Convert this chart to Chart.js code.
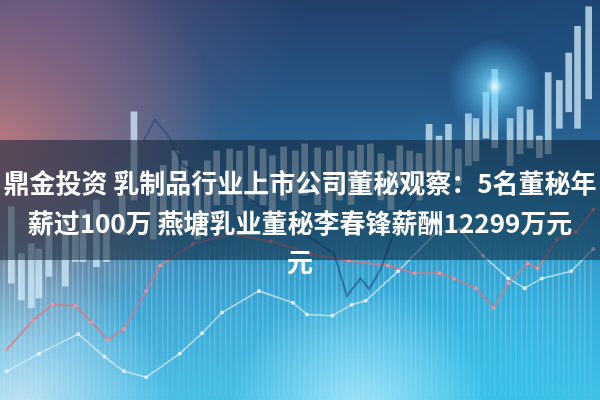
<!DOCTYPE html>
<html lang="zh-CN">
<head>
<meta charset="utf-8">
<title>鼎金投资 乳制品行业上市公司董秘观察</title>
<script src="https://cdn.jsdelivr.net/npm/chart.js@4.4.1/dist/chart.umd.min.js"></script>
<style>
  html, body { margin: 0; padding: 0; background: #2a5d8c; }
  #wrap { position: relative; width: 600px; height: 400px; overflow: hidden; }
  #chart { position: absolute; left: 0; top: 0; }
  #headline {
    position: absolute; left: 0; top: 162px; width: 600px;
    text-align: center; color: #fff; white-space: nowrap;
    font-family: "Noto Sans CJK SC", "Noto Sans", sans-serif;
    font-weight: 700; font-size: 26px; line-height: 39.5px;
  }
</style>
</head>
<body>
<div id="wrap">
  <canvas id="chart" width="600" height="400"></canvas>
  <div id="headline">鼎金投资 乳制品行业上市公司董秘观察：5名董秘年<br>薪过100万 燕塘乳业董秘李春锋薪酬12299万元<br>元</div>
</div>
<script>
// candles (x = session, low / high = price)
const candleX    = [0.8, 2.5, 4.2, 5.5, 7.2, 10.0, 11.7, 13.0, 15.3, 17.0, 19.7, 21.7, 25.0, 26.7, 28.7, 30.3, 32.5, 34.2, 35.8, 38.0, 39.7, 41.7, 43.7, 45.3, 47.2, 49.2, 50.8, 53.0, 55.0, 56.7, 58.7, 60.3, 62.0, 63.8, 65.5, 67.0, 68.7, 70.3, 72.0, 73.7, 75.3, 77.0, 78.7, 80.0, 81.7, 83.2, 85.8, 87.5, 89.2, 90.8, 92.3, 94.2, 95.8, 97.3, 99.2];
const candleLow  = [28.8, 24.5, 22.5, 25.0, 30.5, 28.0, 34.3, 34.3, 33.0, 34.3, 41.3, 50.0, 40.0, 43.8, 47.5, 42.5, 40.0, 45.0, 48.8, 48.8, 46.3, 50.0, 48.8, 43.8, 50.0, 47.5, 51.3, 48.8, 46.3, 50.0, 48.8, 51.3, 51.3, 50.0, 47.5, 53.8, 52.5, 50.0, 56.3, 55.0, 57.5, 53.8, 58.8, 60.0, 65.8, 63.3, 58.8, 61.8, 63.3, 60.8, 61.8, 68.3, 72.5, 68.3, 75.8];
const candleHigh = [48.3, 36.3, 38.8, 37.5, 46.3, 46.3, 41.3, 47.5, 50.0, 46.3, 51.3, 72.5, 56.3, 58.8, 62.5, 60.0, 57.5, 60.0, 62.5, 63.0, 62.5, 63.8, 63.0, 61.3, 63.5, 62.5, 64.3, 63.3, 62.5, 63.8, 62.5, 64.0, 64.3, 61.8, 60.0, 63.8, 62.5, 61.8, 69.3, 66.3, 69.3, 63.0, 72.0, 70.8, 77.5, 83.3, 70.8, 73.8, 73.0, 66.3, 82.5, 80.5, 87.5, 94.3, 99.3];

// light trend line
const whiteX = [0, 5.5, 12.2, 16.7, 20, 23.8, 29.5, 33.3, 36.7, 43, 48.8, 51.2, 55.5, 58.8, 61.2, 66.7, 73.3, 77.2, 81.2, 85.5, 88.3, 91.2, 96.2, 100];
const whiteY = [6.3, 10.8, 15.8, 10, 6.3, 4.8, 10.8, 16, 21.3, 26.8, 23.8, 20.8, 20.5, 23.3, 24.3, 31.8, 41.8, 42.5, 35.8, 30, 27.5, 30, 31.8, 37.5];

// red trend line
const redX = [0, 4.5, 7.8, 11.7, 14.5, 17.2, 20, 23.8, 26.2, 31.7, 38.3, 45, 51.7, 58.3, 65, 69.5, 73.8, 76.2, 80, 83, 85.5, 88.8, 90.5, 93.8, 97, 100];
const redY = [11.8, 19.3, 23.3, 23, 18.8, 14.3, 17, 26.8, 33.3, 38.8, 41.3, 39.5, 36.3, 34.5, 33.3, 31.3, 31.3, 30, 27.5, 22.5, 28.8, 33.8, 32.5, 40, 41.8, 47.5];

// dark blue trend line
const blueX = [23.3, 25.3, 27.8, 30, 35, 41.7, 48.3, 53.3, 55.8, 58, 60.3, 61.8, 63.8, 66.7, 70.8];
const blueY = [65, 70.5, 65.8, 58.8, 55, 50, 43.8, 38.8, 36.3, 25.5, 30, 27.3, 32.5, 44.5, 52.5];

// bright flare sits on the top of this candle
const glowPoint = [83.2, 79];

function toPoints(xs, ys) {
  return xs.map((x, i) => ({ x: x, y: ys[i] }));
}

// painted backdrop: navy top, cyan bottom, salmon haze on the left
const backdrop = {
  id: "backdrop",
  beforeDraw(chart) {
    const { ctx, width, height } = chart;
    ctx.save();
    const base = ctx.createLinearGradient(0, 0, 0, height);
    base.addColorStop(0, "#21406a");
    base.addColorStop(0.4, "#2b6798");
    base.addColorStop(0.75, "#3aa2d2");
    base.addColorStop(1, "#4cc0e6");
    ctx.fillStyle = base;
    ctx.fillRect(0, 0, width, height);

    const blobs = [
      [480, 420, 320, "rgba(40,195,235,0.6)"],
      [0, 140, 220, "rgba(215,128,118,0.9)"],
      [60, 0, 240, "rgba(125,95,140,0.6)"],
      [20, 410, 150, "rgba(215,232,246,0.85)"],
      [360, 415, 130, "rgba(205,242,255,0.7)"],
      [560, 30, 160, "rgba(25,80,130,0.5)"]
    ];
    blobs.forEach(([x, y, r, c]) => {
      const g = ctx.createRadialGradient(x, y, 0, x, y, r);
      g.addColorStop(0, c);
      g.addColorStop(1, c.replace(/[\d.]+\)$/, "0)"));
      ctx.fillStyle = g;
      ctx.fillRect(0, 0, width, height);
    });
    ctx.restore();
  }
};

// glow + dark caption band
const overlay = {
  id: "overlay",
  afterDatasetsDraw(chart) {
    const { ctx, width, scales } = chart;
    const gx = scales.x.getPixelForValue(glowPoint[0]);
    const gy = scales.y.getPixelForValue(glowPoint[1]);
    ctx.save();
    const g = ctx.createRadialGradient(gx, gy, 0, gx, gy, 48);
    g.addColorStop(0, "rgba(235,252,255,0.95)");
    g.addColorStop(0.2, "rgba(120,220,255,0.7)");
    g.addColorStop(1, "rgba(60,170,240,0)");
    ctx.fillStyle = g;
    ctx.beginPath();
    ctx.arc(gx, gy, 48, 0, Math.PI * 2);
    ctx.fill();

    ctx.fillStyle = "rgba(16,34,54,0.55)";
    ctx.fillRect(0, 140, width, 120);
    ctx.restore();
  }
};

function stripeColor(context) {
  const chart = context.chart;
  if (!chart.chartArea) return "rgba(255,255,255,0)";
  const g = chart.ctx.createLinearGradient(0, 0, 0, chart.height);
  g.addColorStop(0, "rgba(255,255,255,0)");
  g.addColorStop(0.6, "rgba(255,255,255,0)");
  g.addColorStop(0.67, "rgba(255,255,255,0.22)");
  g.addColorStop(0.85, "rgba(255,255,255,0.14)");
  g.addColorStop(1, "rgba(255,255,255,0.04)");
  return g;
}

new Chart(document.getElementById("chart"), {
  type: "bar",
  data: {
    datasets: [
      {
        type: "line",
        data: toPoints(blueX, blueY),
        borderColor: "rgba(30,75,130,0.6)",
        borderWidth: 2,
        pointRadius: 0,
        order: 1
      },
      {
        type: "line",
        data: toPoints(redX, redY),
        borderColor: "rgba(225,115,130,0.7)",
        borderWidth: 2,
        pointRadius: 2,
        pointBorderWidth: 0,
        pointBackgroundColor: "rgba(240,150,160,0.8)",
        order: 1
      },
      {
        type: "line",
        data: toPoints(whiteX, whiteY),
        borderColor: "rgba(225,242,255,0.7)",
        borderWidth: 1.5,
        pointRadius: 2,
        pointBorderWidth: 0,
        pointBackgroundColor: "rgba(235,245,255,0.85)",
        order: 1
      },
      {
        data: candleX.map((x, i) => ({ x: x, y: [candleLow[i], candleHigh[i]] })),
        backgroundColor: "rgba(210,236,250,0.75)",
        borderWidth: 0,
        borderSkipped: false,
        barThickness: 6,
        order: 3
      }
    ]
  },
  options: {
    responsive: false,
    animation: false,
    layout: { padding: 0 },
    plugins: {
      legend: { display: false },
      tooltip: { enabled: false }
    },
    scales: {
      x: {
        type: "linear",
        min: 0,
        max: 100,
        ticks: { display: false, stepSize: 0.9 },
        grid: { color: stripeColor, lineWidth: 1.5, drawTicks: false },
        border: { display: false }
      },
      y: { display: false, min: 0, max: 100 }
    }
  },
  plugins: [backdrop, overlay]
});
</script>
</body>
</html>
